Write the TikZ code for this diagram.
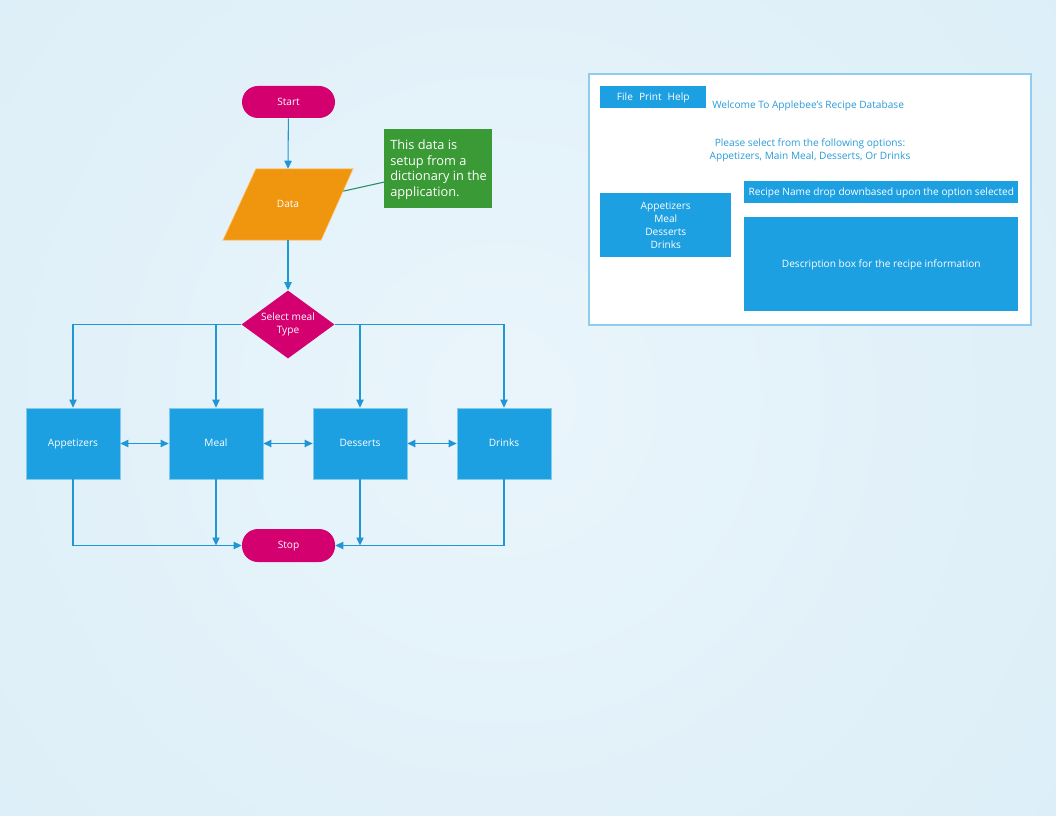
\documentclass[tikz,border=0pt]{standalone}
\usepackage{fontspec}
\setmainfont{Open Sans}
\usetikzlibrary{arrows.meta,shapes.geometric}

\definecolor{bginner}{HTML}{EAF5FB}
\definecolor{bgouter}{HTML}{D3EAF6}
\definecolor{termcol}{HTML}{D5006F}
\definecolor{datacol}{HTML}{F0950E}
\definecolor{notecol}{HTML}{3A9A35}
\definecolor{notelink}{HTML}{2E8A63}
\definecolor{boxcol}{HTML}{1DA0E1}
\definecolor{linkcol}{HTML}{2196D5}
\definecolor{panelline}{HTML}{8FCDEF}
\definecolor{paneltext}{HTML}{2A9BD8}

\newcommand\smallfs{\fontsize{7.6pt}{9.75pt}\selectfont}
\newcommand\notefs{\fontsize{9.6pt}{11.7pt}\selectfont}

\tikzset{
  size/.style 2 args={minimum width=#1*0.75pt, minimum height=#2*0.75pt},
  even/.style={text height=5.6pt, text depth=0.6pt},
  term/.style={fill=termcol, rounded corners=12pt, text=white, font=\smallfs, inner sep=0pt, even},
  proc/.style={fill=boxcol, draw=boxcol!55!white, line width=0.5pt, text=white, font=\smallfs, inner sep=0pt, even},
  decide/.style={diamond, fill=termcol, text=white, font=\smallfs, inner sep=0pt, shape aspect=1.37, align=center},
  conn/.style={draw=linkcol, line width=0.8pt},
  tip/.style={-{Triangle[length=6pt,width=5.5pt]}},
  dtip/.style={{Triangle[length=6pt,width=5.5pt]}-{Triangle[length=6pt,width=5.5pt]}},
  uibox/.style={fill=boxcol, text=white, font=\smallfs, inner sep=0pt, align=center},
  uitext/.style={text=paneltext, font=\smallfs, inner sep=0pt, align=center},
}

\begin{document}
\begin{tikzpicture}[x=0.75pt,y=-0.75pt]
  % page and soft background
  \useasboundingbox (0,0) rectangle (1056,816);
  \begin{scope}
    \clip (0,0) rectangle (1056,816);
    \fill[bgouter] (0,0) rectangle (1056,816);
    \shade[inner color=bginner, outer color=bgouter] (500,400) circle (1150);
  \end{scope}

  % ---------------- flowchart ----------------
  \node[term, size={93}{32}] (start) at (288.5,102) {Start};

  % data input (parallelogram drawn around a plain node)
  \node[size={130}{71}, inner sep=0pt] (data) at (288,204.5) {};
  \fill[datacol, draw=datacol!40!white, line width=0.5pt]
    ([xshift=24.75pt]data.north west) -- (data.north east)
    -- ([xshift=-24pt]data.south east) -- (data.south west) -- cycle;
  \node[text=white, font=\smallfs, inner sep=0pt, even] (datalabel) at (data.center) {Data};

  \node[fill=notecol, size={108}{79}, anchor=north west, inner sep=0pt] (note) at (384,129) {};
  \node[text=white, font=\notefs, align=left, anchor=north west, inner sep=0pt] (notetext) at (390,139.5)
    {This data is\\setup from a\\dictionary in the\\application.};
  \draw[notelink, line width=0.8pt] ([xshift=-7.5pt,yshift=10pt]data.east) -- ([yshift=-10pt]note.west);

  \node[decide, size={93}{68}] (sel) at (288,324.5) {Select meal\\Type};

  \node[proc, size={94}{71}] (app) at (73,443.5) {Appetizers};
  \node[proc, size={94}{71}] (meal) at (216,443.5) {Meal};
  \node[proc, size={94}{71}] (des) at (360,443.5) {Desserts};
  \node[proc, size={94}{71}] (dri) at (504,443.5) {Drinks};

  \node[term, size={93}{33}] (stop) at (288.5,545.5) {Stop};

  % connectors
  \draw[conn, tip] (start) -- (data.north);
  \draw[conn, tip] (data.south) -- (sel.north);
  \draw[conn, tip] (sel.west) -| (app.north);
  \draw[conn, tip] (sel.west) -| (meal.north);
  \draw[conn, tip] (sel.east) -| (des.north);
  \draw[conn, tip] (sel.east) -| (dri.north);

  \draw[conn, dtip] (app.east) -- (meal.west);
  \draw[conn, dtip] (meal.east) -- (des.west);
  \draw[conn, dtip] (des.east) -- (dri.west);

  \draw[conn, tip] (app.south) |- (stop.west);
  \draw[conn, tip] (meal.south) -- (meal.south |- stop.west);
  \draw[conn, tip] (dri.south) |- (stop.east);
  \draw[conn, tip] (des.south) -- (des.south |- stop.east);

  % ---------------- application mock-up ----------------
  \node[fill=white, draw=panelline, line width=1.5pt, size={442}{251}, anchor=north west, inner sep=0pt] (panel) at (588,73) {};

  \node[uibox, size={106}{22}, anchor=north west, even] (menu) at (600,86) {File\hspace{0.6em}Print\hspace{0.6em}Help};
  \node[uitext, anchor=west, even] (welcome) at (712,105) {Welcome To Applebee's Recipe Database};
  \node[uitext] (prompt) at (810,150) {Please select from the following options:\\Appetizers, Main Meal, Desserts, Or Drinks};

  \node[uibox, size={131}{64}, anchor=north west] (list) at (600,193) {Appetizers\\Meal\\Desserts\\Drinks};
  \node[uibox, size={274}{22}, anchor=north west, even] (recipe) at (744,181) {Recipe Name drop downbased upon the option selected};
  \node[uibox, size={274}{94}, anchor=north west, even] (desc) at (744,217) {Description box for the recipe information};
\end{tikzpicture}
\end{document}
